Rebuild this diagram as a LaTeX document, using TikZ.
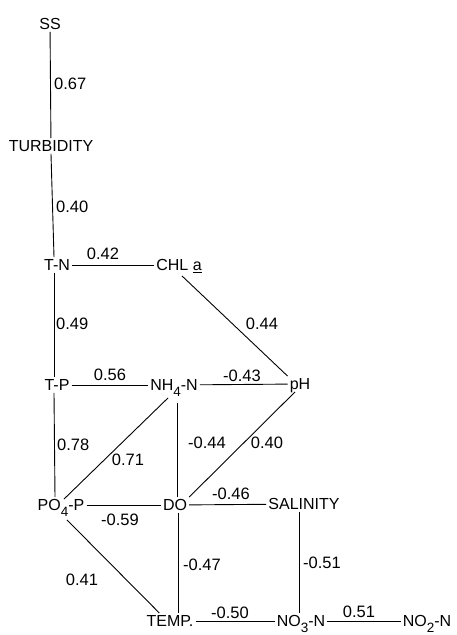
\documentclass[tikz,border=0pt]{standalone}
\usepackage{fontspec}
\setmainfont{Liberation Sans}
\usetikzlibrary{calc}
\newcommand\lsub[1]{\raisebox{-5.5pt}{\fontsize{13.5}{14}\selectfont #1}}
\begin{document}
\begin{tikzpicture}[x=1pt,y=-1pt,
  var/.style={font=\fontsize{16}{18}\selectfont, inner sep=2pt, text height=11.5pt, text depth=0pt},
  lab/.style={font=\fontsize{16.5}{18}\selectfont, inner sep=0pt, text height=11.5pt, text depth=0pt},
  edge/.style={line width=0.9pt}]
\useasboundingbox (0,0) rectangle (456,635);
% variables
\node[var] (ss)   at (50,24)   {SS};
\node[var] (turb) at (51,146)  {TURBIDITY};
\node[var] (tn)   at (57,265)  {T-N};
\node[var] (chl)  at (179,265) {CHL \underline{a}};
\node[var] (tp)   at (57,385)  {T-P};
\node[var] (nh4)  at (174,385) {NH\lsub{4}-N};
\node[var] (ph)   at (300,384) {pH};
\node[var] (po4)  at (61,505)  {PO\lsub{4}-P};
\node[var] (do)   at (175,505) {DO};
\node[var] (sal)  at (304,504) {SALINITY};
\node[var] (temp) at (170,621) {TEMP.};
\node[var] (no3)  at (301,621) {NO\lsub{3}-N};
\node[var] (no2)  at (427,621) {NO\lsub{2}-N};
% connectors
\draw[edge] (ss) -- (turb);
\draw[edge] (turb.south) -- ($(tn.north)+(-3,0)$);
\draw[edge] ($(tn.south)+(-3,0)$) -- ($(tp.north)+(-3,0)$);
\draw[edge] ($(tp.south)+(-3,0)$) -- ($(po4.north)+(-6,0)$);
\draw[edge] (tn) -- (chl);
\draw[edge] ($(chl.south)+(3,3)$) -- (ph.north west);
\draw[edge] (tp) -- (nh4);
\draw[edge] (nh4) -- (ph);
\draw[edge] ($(nh4.south)+(-6,5)$) -- ($(po4.north)+(3,2)$);
\draw[edge] ($(nh4.south)+(3,10)$) -- ($(do.north)+(2,0)$);
\draw[edge] ($(ph.south)+(-5,0)$) -- (do.north east);
\draw[edge] (po4) -- (do);
\draw[edge] (do) -- (sal);
\draw[edge] ($(po4.south)+(6,7)$) -- ($(temp.north west)+(15,0)$);
\draw[edge] ($(do.south)+(3,0)$) -- ($(do.south |- temp.north)+(3,0)$);
\draw[edge] ($(sal.south)+(-5,0)$) -- ($(no3.north)+(-2,0)$);
\draw[edge] (temp) -- (no3);
\draw[edge] (no3) -- (no2);
% labels
\node[lab,anchor=west] (l1)  at (54,84)   {0.67};
\node[lab,anchor=west] (l2)  at (56,207)  {0.40};
\node[lab] (l3)  at (103,254) {0.42};
\node[lab] (l4)  at (262,324) {0.44};
\node[lab,anchor=west] (l5)  at (56,324)  {0.49};
\node[lab] (l6)  at (110,375) {0.56};
\node[lab] (l7)  at (242,376) {-0.43};
\node[lab,anchor=west] (l8)  at (57,445)  {0.78};
\node[lab] (l9)  at (128,460) {0.71};
\node[lab] (l10) at (207,443) {-0.44};
\node[lab] (l11) at (267,443) {0.40};
\node[lab] (l12) at (120,520) {-0.59};
\node[lab] (l13) at (231,494) {-0.46};
\node[lab,anchor=west] (l14) at (303,563) {-0.51};
\node[lab] (l15) at (202,565) {-0.47};
\node[lab] (l16) at (82,580)  {0.41};
\node[lab] (l17) at (230,613) {-0.50};
\node[lab] (l18) at (359,612) {0.51};
\end{tikzpicture}
\end{document}
